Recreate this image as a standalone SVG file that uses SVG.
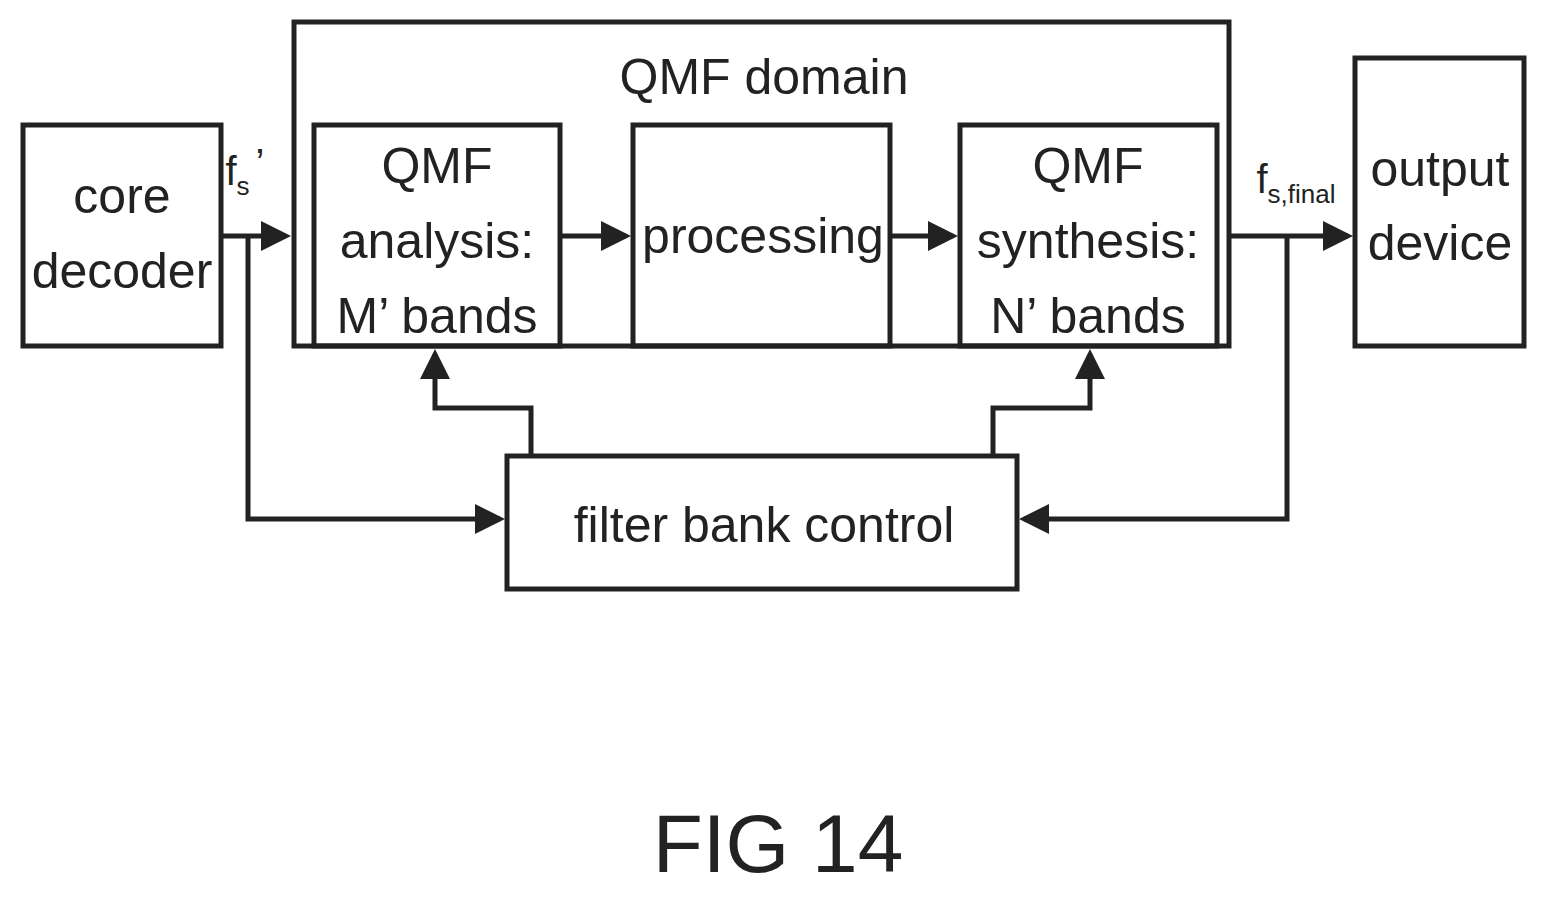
<svg xmlns="http://www.w3.org/2000/svg" width="1547" height="900" viewBox="0 0 1547 900">
<style>
rect{fill:none;stroke:#222;stroke-width:5}
.c path{fill:none;stroke:#222;stroke-width:5}
text{font-family:"Liberation Sans Narrow","Liberation Sans",sans-serif;fill:#222;text-anchor:middle}
.t{font-size:50px}
</style>
<defs><marker id="a" markerWidth="6" markerHeight="6" refX="5" refY="3" orient="auto" markerUnits="strokeWidth"><path d="M0,0 L6,3 L0,6 z" fill="#222"/></marker></defs>
<rect width="1547" height="900" style="fill:#fff;stroke:none"/>
<g id="qmfdomain"><rect x="294" y="22" width="935" height="324"/><text class="t" x="764" y="94">QMF domain</text></g>
<g id="core"><rect x="23" y="125" width="198" height="221"/><text class="t" x="122" y="213">core</text><text class="t" x="122" y="288">decoder</text></g>
<g id="analysis"><rect x="314" y="125" width="246" height="221"/><text class="t" x="437" y="183">QMF</text><text class="t" x="437" y="258">analysis:</text><text class="t" x="437" y="333">M’ bands</text></g>
<g id="processing"><rect x="633" y="125" width="257" height="221"/><text class="t" x="763" y="253">processing</text></g>
<g id="synthesis"><rect x="960" y="125" width="257" height="221"/><text class="t" x="1088" y="183">QMF</text><text class="t" x="1088" y="258">synthesis:</text><text class="t" x="1088" y="333">N’ bands</text></g>
<g id="output"><rect x="1355" y="58" width="169" height="288"/><text class="t" x="1440" y="186">output</text><text class="t" x="1440" y="260">device</text></g>
<g id="fbc"><rect x="507" y="456" width="510" height="133"/><text class="t" x="764" y="542">filter bank control</text></g>
<g class="c">
<path d="M221,236 H286" marker-end="url(#a)"/>
<path d="M560,236 H626" marker-end="url(#a)"/>
<path d="M890,236 H953" marker-end="url(#a)"/>
<path d="M1229,236 H1348" marker-end="url(#a)"/>
<path d="M248,236 V519 H500" marker-end="url(#a)"/>
<path d="M1287,236 V519 H1024" marker-end="url(#a)"/>
<path d="M531,456 V408 H435 V354" marker-end="url(#a)"/>
<path d="M993,456 V408 H1090 V354" marker-end="url(#a)"/>
</g>
<text x="245" y="185" style="font-size:40px">f<tspan font-size="26" dy="10">s</tspan><tspan dy="-18" dx="6">’</tspan></text>
<text x="1296" y="193" style="font-size:40px">f<tspan font-size="26" dy="10">s,final</tspan></text>
<text x="778" y="872" style="font-size:82px">FIG 14</text>
</svg>
